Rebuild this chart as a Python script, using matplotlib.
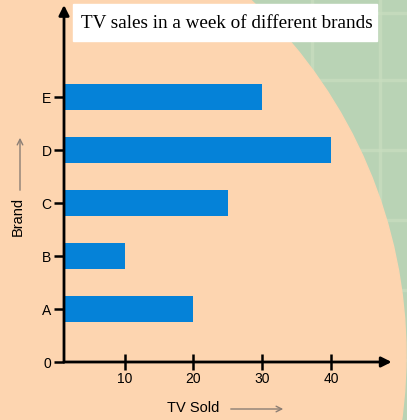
import matplotlib
matplotlib.use("Agg")
from matplotlib import pyplot as plt
from matplotlib.patches import Ellipse, Rectangle
import numpy as np

brands = ["A", "B", "C", "D", "E"]
tv_sold = [20, 10, 25, 40, 30]
xticks = [10, 20, 30, 40]

title = "TV sales in a week of different brands"
xlabel = "TV Sold"
ylabel = "Brand"

peach = '#FDD5B0'
green = '#B9D3B5'
bar_color = '#0582D8'

fig = plt.figure(figsize=(4.07, 4.20), dpi=100)
fig.patch.set_facecolor(green)

# background: faint green grid + peach ellipse
bg = fig.add_axes([0, 0, 1, 1])
bg.set_xlim(0, 407)
bg.set_ylim(420, 0)
bg.axis('off')
for gx in [245, 312, 380]:
    bg.plot([gx, gx], [0, 420], color='#C9DEC0', lw=2.5, alpha=0.7)
for gy in [13, 80, 150, 220, 290, 360]:
    bg.plot([0, 407], [gy, gy], color='#C9DEC0', lw=2.5, alpha=0.7)
bg.add_patch(Ellipse((-100, 355), 1012, 985, color=peach, zorder=2))

ax = fig.add_axes([64/407, 58/420, 326/407, 357/420])
ax.patch.set_alpha(0)
y = np.arange(1, len(brands) + 1)
ax.barh(y, tv_sold, height=0.5, color=bar_color, zorder=3)

ax.set_xlim(1.16, 48.6)
ax.set_ylim(0, 6.74)
for s in ax.spines.values():
    s.set_visible(False)
arrow = dict(arrowstyle='-|>,head_length=0.5,head_width=0.25', lw=2, color='black',
             shrinkA=0, shrinkB=0, mutation_scale=12)
ax.annotate('', xy=(1.005, 0), xytext=(0, 0), xycoords='axes fraction',
            arrowprops=arrow, annotation_clip=False)
ax.annotate('', xy=(0, 1.0), xytext=(0, 0), xycoords='axes fraction',
            arrowprops=arrow, annotation_clip=False)

ax.set_yticks([0] + list(y))
ax.set_yticklabels(["0"] + brands, fontsize=10, family='Liberation Sans')
ax.set_xticks(xticks)
ax.set_xticklabels([str(t) for t in xticks], fontsize=10, family='Liberation Sans')
ax.tick_params(axis='y', direction='out', length=7, width=1.8, pad=2)
ax.tick_params(axis='x', direction='inout', length=11, width=1.8, pad=2)

# axis labels with arrows
fig.text(167/407, 1 - 408/420, xlabel, fontsize=10.5, family='Liberation Sans', va='center', ha='left')
bg.annotate('', xy=(286, 409), xytext=(228, 409),
            arrowprops=dict(arrowstyle='->', color='#8B7E74', lw=1))
fig.text(18/407, 1 - 216/420, ylabel, fontsize=10.5, family='Liberation Sans', rotation=90,
         va='center', ha='center')
bg.annotate('', xy=(20, 135), xytext=(20, 193),
            arrowprops=dict(arrowstyle='->', color='#8B7E74', lw=1))

# title box
bg.add_patch(Rectangle((73, 4), 304, 37, color='white', zorder=5))
bg.text(227, 23, title, fontsize=13.8, family='Liberation Serif', ha='center', va='center', zorder=6)

fig.savefig("out.png", dpi=100, facecolor=fig.get_facecolor())
